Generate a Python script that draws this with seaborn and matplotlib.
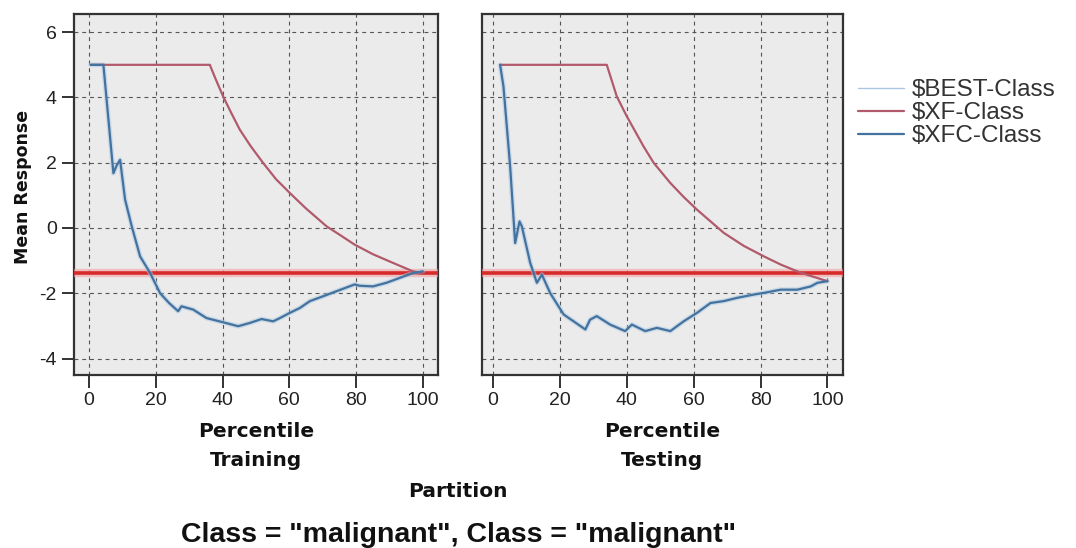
import matplotlib
matplotlib.use('Agg')
import matplotlib.pyplot as plt
import seaborn as sns
from matplotlib.lines import Line2D

# Training partition, $XFC-Class
train_xfc_x = [0.5, 4.3, 7.3, 8.2, 9.3, 10.8, 12.8, 15.3, 18.3, 21.3, 24.0, 26.7, 27.7, 31.2, 35.2,
               40.2, 44.7, 48.2, 51.7, 55.2, 57.2, 60.2, 63.2, 66.2, 70.2, 74.1, 79.6, 81.1, 85.1,
               89.1, 93.1, 97.1, 100.0]
train_xfc_y = [5.0, 5.0, 1.68, 1.9, 2.09, 0.87, 0.05, -0.87, -1.38, -2.0, -2.3, -2.55, -2.4, -2.5, -2.76,
               -2.89, -3.01, -2.91, -2.79, -2.86, -2.76, -2.6, -2.45, -2.24, -2.09, -1.94, -1.73, -1.77, -1.79,
               -1.68, -1.53, -1.38, -1.33]
# Training partition, $XF-Class
train_xf_x = [0.5, 36.2, 38.0, 40.2, 42.5, 45.2, 48.5, 52.2, 56.0, 60.2, 65.0, 71.2, 75.0, 79.6, 85.0,
              91.1, 97.1, 100.0]
train_xf_y = [5.0, 5.0, 4.55, 4.03, 3.55, 3.01, 2.5, 1.99, 1.5, 1.07, 0.6, 0.05, -0.2, -0.51, -0.8,
              -1.07, -1.33, -1.38]

# Testing partition, $XFC-Class
test_xfc_x = [2.1, 3.1, 5.1, 6.6, 7.9, 8.6, 11.1, 13.1, 14.6, 17.1, 21.1, 27.6, 29.0, 31.0, 35.0,
              39.5, 41.5, 45.5, 49.0, 53.0, 57.0, 61.0, 65.0, 69.0, 73.0, 78.0, 82.0, 86.0, 91.0,
              95.0, 97.0, 100.0]
test_xfc_y = [5.0, 4.34, 1.89, -0.46, 0.2, 0.05, -1.07, -1.68, -1.43, -2.0, -2.65, -3.11, -2.81, -2.7, -2.96,
              -3.16, -2.96, -3.16, -3.06, -3.16, -2.86, -2.6, -2.3, -2.24, -2.14, -2.04, -1.97, -1.89, -1.89,
              -1.79, -1.68, -1.63]
# Testing partition, $XF-Class
test_xf_x = [2.1, 34.0, 37.0, 40.0, 45.0, 48.0, 53.0, 57.0, 61.0, 69.0, 75.0, 81.0, 86.0, 91.0, 95.0, 100.0]
test_xf_y = [5.0, 5.0, 4.03, 3.42, 2.5, 2.0, 1.38, 0.95, 0.56, -0.15, -0.55, -0.87, -1.12, -1.33, -1.47, -1.63]

baseline = -1.37
x_ticks = [0, 20, 40, 60, 80, 100]
y_ticks = [-4, -2, 0, 2, 4, 6]
series_names = ['$BEST-Class', '$XF-Class', '$XFC-Class']
colors = {'$BEST-Class': '#a9c7e2', '$XF-Class': '#b05a6c', '$XFC-Class': '#44729f'}

sns.set_style('ticks')
plt.rcParams['font.family'] = ['Liberation Sans', 'DejaVu Sans']
plt.rcParams['axes.unicode_minus'] = False

fig = plt.figure(figsize=(10.76, 5.48), dpi=100)
ax1 = fig.add_axes([0.0688, 0.316, 0.338, 0.658])
ax2 = fig.add_axes([0.448, 0.316, 0.335, 0.658])

panels = [(ax1, train_xfc_x, train_xfc_y, train_xf_x, train_xf_y, (-4.5, 104.5)),
          (ax2, test_xfc_x, test_xfc_y, test_xf_x, test_xf_y, (-3.3, 104.5))]

for ax, bx, by, rx, ry, xl in panels:
    ax.set_facecolor('#ebebeb')
    ax.set_xlim(*xl)
    ax.set_ylim(-4.5, 6.55)
    ax.set_xticks(x_ticks)
    ax.set_yticks(y_ticks)
    ax.grid(True, color='#555555', linestyle=(0, (3.5, 3.5)), linewidth=0.8)
    ax.set_axisbelow(True)
    ax.axhline(baseline, color='#f4a0a0', linewidth=6, alpha=0.6, zorder=3)
    ax.axhline(baseline, color='#d62b2b', linewidth=2.6, zorder=4)
    # $BEST-Class shows only as a pale halo under the $XFC line
    sns.lineplot(x=bx, y=by, ax=ax, color=colors['$BEST-Class'], linewidth=3.5, alpha=0.5, zorder=5)
    sns.lineplot(x=rx, y=ry, ax=ax, color=colors['$XF-Class'], linewidth=1.6, zorder=6)
    sns.lineplot(x=bx, y=by, ax=ax, color=colors['$XFC-Class'], linewidth=1.6, zorder=7)
    for s in ax.spines.values():
        s.set_color('#333333')
        s.set_linewidth(1.6)
    ax.tick_params(axis='both', direction='out', length=9, width=1.4, color='#333333',
                   labelsize=14, labelcolor='#222222')
    ax.set_xlabel('')
    ax.set_ylabel('')

ax2.tick_params(axis='y', left=False, labelleft=False)

lab = dict(family='DejaVu Sans', fontweight='bold', fontsize=14.5, color='#111111',
           ha='center', va='baseline')
fig.text(256 / 1076, 1 - 437 / 548, 'Percentile', **lab)
fig.text(256 / 1076, 1 - 466 / 548, 'Training', **lab)
fig.text(662 / 1076, 1 - 437 / 548, 'Percentile', **lab)
fig.text(662 / 1076, 1 - 466 / 548, 'Testing', **lab)
fig.text(458 / 1076, 1 - 497 / 548, 'Partition', **lab)
fig.text(459 / 1076, 1 - 542 / 548, 'Class = "malignant", Class = "malignant"',
         fontweight='bold', fontsize=20.5, color='#111111', ha='center', va='baseline')
fig.text(23 / 1076, 1 - 187 / 548, 'Mean Response', rotation=90, family='DejaVu Sans',
         fontweight='bold', fontsize=12.5, color='#111111', ha='center', va='center')

handles = [Line2D([0], [0], color=colors[n], linewidth=1.6 if n != '$BEST-Class' else 1.0)
           for n in series_names]
fig.legend(handles, series_names, loc='upper left', bbox_to_anchor=(858 / 1076, 1 - 79 / 548),
           frameon=False, fontsize=17.5, handlelength=1.9, handletextpad=0.3,
           labelspacing=0.05, borderpad=0, borderaxespad=0, labelcolor='#333333')

plt.savefig('out.png', dpi=100)
